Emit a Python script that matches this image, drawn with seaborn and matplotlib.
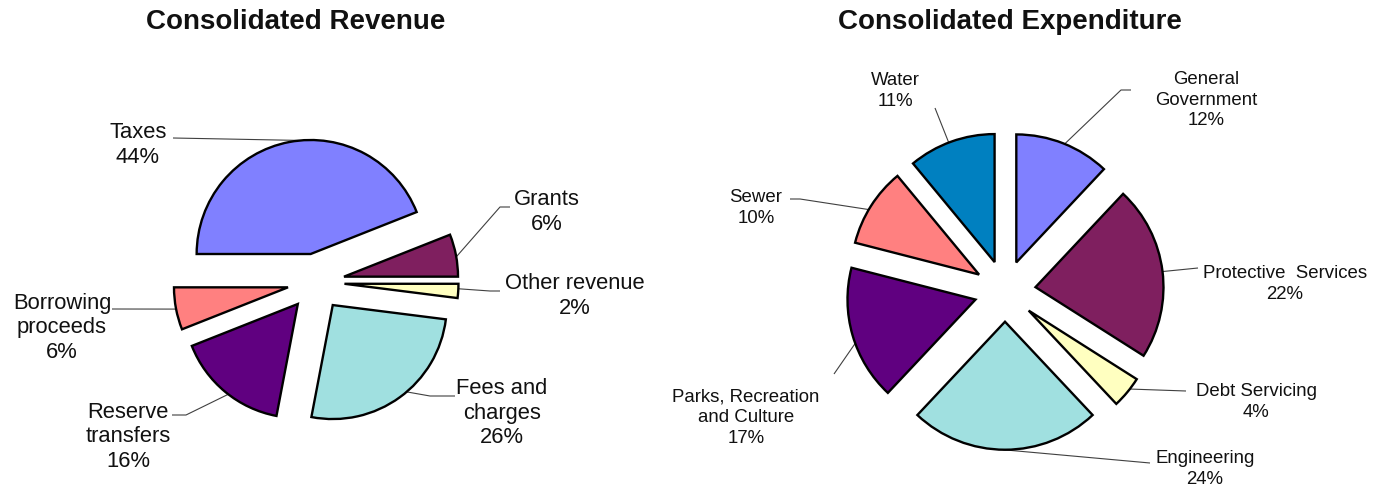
import matplotlib.pyplot as plt
import numpy as np
import seaborn as sns

# Revenue data
rev_labels = ["Taxes", "Grants", "Other revenue", "Fees and\ncharges", "Reserve\ntransfers", "Borrowing\nproceeds"]
rev_values = [44, 6, 2, 26, 16, 6]
rev_colors = ["#8080FF", "#7F1F5F", "#FFFFC0", "#A0E0E0", "#600080", "#FF8080"]

# Expenditure data
exp_labels = ["General\nGovernment", "Protective  Services", "Debt Servicing", "Engineering",
              "Parks, Recreation\nand Culture", "Sewer", "Water"]
exp_values = [12, 22, 4, 24, 17, 10, 11]
exp_colors = ["#8080FF", "#7F1F5F", "#FFFFC0", "#A0E0E0", "#600080", "#FF8080", "#0080C0"]

W, H = 1385, 491

sns.set_theme(style="white")
plt.rcParams["font.family"] = ["Liberation Sans", "DejaVu Sans"]

fig = plt.figure(figsize=(W / 100, H / 100), dpi=100)
ax = fig.add_axes([0, 0, 1, 1])


def draw_pie(values, labels, colors, center, radius, explode, startangle,
             text_pos, attach_deg, elbows, fontsize, linespacing):
    # explode given as fraction of radius; matplotlib wants data units
    wedges, _ = ax.pie(values, colors=colors, startangle=startangle, counterclock=False,
                       center=(center[0], H - center[1]), radius=radius,
                       explode=[explode * radius] * len(values),
                       wedgeprops=dict(edgecolor="black", linewidth=1.7))
    for w, lab, v, tp, a, el in zip(wedges, labels, values, text_pos, attach_deg, elbows):
        cx, cy = w.center
        ax_pt = (cx + w.r * np.cos(np.radians(a)), cy + w.r * np.sin(np.radians(a)))
        pts = [(p[0], H - p[1]) for p in el] + [ax_pt]
        xs, ys = zip(*pts)
        ax.plot(xs, ys, color="#404040", lw=0.8, solid_capstyle="butt", zorder=0)
        ax.text(tp[0], H - tp[1], f"{lab}\n{v}%", ha="center", va="center",
                fontsize=fontsize, linespacing=linespacing, color="#111111")


# left pie
draw_pie(rev_values, rev_labels, rev_colors, center=(316, 282), radius=114, explode=0.25,
         startangle=180,
         text_pos=[(138, 145), (547, 212), (575, 296), (502, 413), (128, 437), (62, 328)],
         attach_deg=[95, 10, -2.5, -49.6, -127.6, -169],
         elbows=[[(173, 138)], [(510, 207), (500, 207)], [(500, 291), (490, 291)],
                 [(455, 396), (430, 396)], [(172, 415), (186, 415)], [(112, 309)]],
         fontsize=15.8, linespacing=1.2)

# right pie
draw_pie(exp_values, exp_labels, exp_colors, center=(1005, 291), radius=128, explode=0.24,
         startangle=90,
         text_pos=[(1206, 100), (1285, 284), (1256, 402), (1205, 469), (746, 418), (756, 208), (895, 91)],
         attach_deg=[67.8, 7, -37.8, -91, -160, 149.5, 111],
         elbows=[[(1131, 90), (1121, 90)], [(1198, 268)], [(1186, 391)], [(1150, 463)],
                 [(834, 374)], [(790, 199), (800, 199)], [(935, 108)]],
         fontsize=13.4, linespacing=1.3)

ax.text(296, H - 22, "Consolidated Revenue", ha="center", va="center",
        fontsize=20, fontweight="bold", color="#111111")
ax.text(1010, H - 22, "Consolidated Expenditure", ha="center", va="center",
        fontsize=20, fontweight="bold", color="#111111")

ax.set_xlim(0, W)
ax.set_ylim(0, H)
ax.set_aspect("equal")
ax.set_axis_off()

fig.savefig("out.png", dpi=100, facecolor="white")
